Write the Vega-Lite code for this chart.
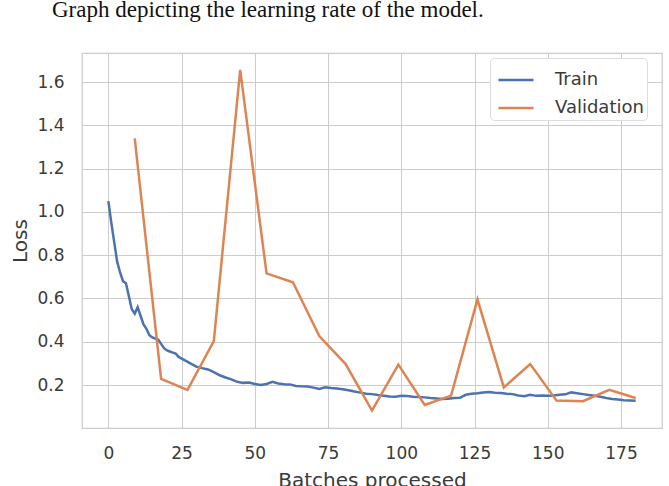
{
  "$schema": "https://vega.github.io/schema/vega-lite/v6.json",
  "autosize": {"type": "none"},
  "padding": {"left": 82, "top": 53, "right": 7, "bottom": 58},
  "width": 580,
  "height": 375,
  "title": {"text": "Graph depicting the learning rate of the model.", "anchor": "start", "frame": "group", "dx": -30, "offset": 31, "font": "Liberation Serif", "fontSize": 23, "fontWeight": "normal", "color": "#111111"},
  "config": {
    "font": "DejaVu Sans",
    "view": {"stroke": "#cccccc", "strokeWidth": 1.25},
    "axis": {"gridColor": "#cccccc", "gridWidth": 1, "domain": false, "ticks": false, "labelFontSize": 17, "labelColor": "#3a3a3a", "titleFontSize": 20, "titleFontWeight": "normal", "titleColor": "#3a3a3a"}
  },
  "data": {"values": [
    {"batch": 0, "loss": 1.05, "series": "Train"},
    {"batch": 1, "loss": 0.95, "series": "Train"},
    {"batch": 2, "loss": 0.86, "series": "Train"},
    {"batch": 3, "loss": 0.77, "series": "Train"},
    {"batch": 4, "loss": 0.72, "series": "Train"},
    {"batch": 5, "loss": 0.68, "series": "Train"},
    {"batch": 6, "loss": 0.67, "series": "Train"},
    {"batch": 7, "loss": 0.61, "series": "Train"},
    {"batch": 8, "loss": 0.55, "series": "Train"},
    {"batch": 9, "loss": 0.53, "series": "Train"},
    {"batch": 10, "loss": 0.56, "series": "Train"},
    {"batch": 11, "loss": 0.52, "series": "Train"},
    {"batch": 12, "loss": 0.48, "series": "Train"},
    {"batch": 13, "loss": 0.46, "series": "Train"},
    {"batch": 14, "loss": 0.43, "series": "Train"},
    {"batch": 15, "loss": 0.42, "series": "Train"},
    {"batch": 16, "loss": 0.415, "series": "Train"},
    {"batch": 17, "loss": 0.41, "series": "Train"},
    {"batch": 18, "loss": 0.39, "series": "Train"},
    {"batch": 19, "loss": 0.37, "series": "Train"},
    {"batch": 20, "loss": 0.36, "series": "Train"},
    {"batch": 21, "loss": 0.355, "series": "Train"},
    {"batch": 22, "loss": 0.35, "series": "Train"},
    {"batch": 23, "loss": 0.345, "series": "Train"},
    {"batch": 24, "loss": 0.33, "series": "Train"},
    {"batch": 26, "loss": 0.315, "series": "Train"},
    {"batch": 28, "loss": 0.3, "series": "Train"},
    {"batch": 30, "loss": 0.285, "series": "Train"},
    {"batch": 32, "loss": 0.278, "series": "Train"},
    {"batch": 34, "loss": 0.272, "series": "Train"},
    {"batch": 36, "loss": 0.26, "series": "Train"},
    {"batch": 38, "loss": 0.245, "series": "Train"},
    {"batch": 40, "loss": 0.235, "series": "Train"},
    {"batch": 42, "loss": 0.226, "series": "Train"},
    {"batch": 44, "loss": 0.215, "series": "Train"},
    {"batch": 46, "loss": 0.21, "series": "Train"},
    {"batch": 48, "loss": 0.212, "series": "Train"},
    {"batch": 50, "loss": 0.205, "series": "Train"},
    {"batch": 52, "loss": 0.2, "series": "Train"},
    {"batch": 54, "loss": 0.205, "series": "Train"},
    {"batch": 56, "loss": 0.215, "series": "Train"},
    {"batch": 58, "loss": 0.207, "series": "Train"},
    {"batch": 60, "loss": 0.204, "series": "Train"},
    {"batch": 62, "loss": 0.203, "series": "Train"},
    {"batch": 64, "loss": 0.196, "series": "Train"},
    {"batch": 66, "loss": 0.194, "series": "Train"},
    {"batch": 68, "loss": 0.193, "series": "Train"},
    {"batch": 70, "loss": 0.188, "series": "Train"},
    {"batch": 72, "loss": 0.182, "series": "Train"},
    {"batch": 74, "loss": 0.19, "series": "Train"},
    {"batch": 76, "loss": 0.186, "series": "Train"},
    {"batch": 78, "loss": 0.184, "series": "Train"},
    {"batch": 80, "loss": 0.181, "series": "Train"},
    {"batch": 82, "loss": 0.176, "series": "Train"},
    {"batch": 84, "loss": 0.17, "series": "Train"},
    {"batch": 86, "loss": 0.165, "series": "Train"},
    {"batch": 88, "loss": 0.16, "series": "Train"},
    {"batch": 90, "loss": 0.158, "series": "Train"},
    {"batch": 92, "loss": 0.154, "series": "Train"},
    {"batch": 94, "loss": 0.151, "series": "Train"},
    {"batch": 96, "loss": 0.147, "series": "Train"},
    {"batch": 98, "loss": 0.146, "series": "Train"},
    {"batch": 100, "loss": 0.15, "series": "Train"},
    {"batch": 102, "loss": 0.149, "series": "Train"},
    {"batch": 104, "loss": 0.146, "series": "Train"},
    {"batch": 106, "loss": 0.145, "series": "Train"},
    {"batch": 108, "loss": 0.143, "series": "Train"},
    {"batch": 110, "loss": 0.14, "series": "Train"},
    {"batch": 112, "loss": 0.138, "series": "Train"},
    {"batch": 114, "loss": 0.136, "series": "Train"},
    {"batch": 116, "loss": 0.137, "series": "Train"},
    {"batch": 118, "loss": 0.14, "series": "Train"},
    {"batch": 120, "loss": 0.141, "series": "Train"},
    {"batch": 122, "loss": 0.155, "series": "Train"},
    {"batch": 124, "loss": 0.16, "series": "Train"},
    {"batch": 126, "loss": 0.162, "series": "Train"},
    {"batch": 128, "loss": 0.165, "series": "Train"},
    {"batch": 130, "loss": 0.168, "series": "Train"},
    {"batch": 132, "loss": 0.164, "series": "Train"},
    {"batch": 134, "loss": 0.163, "series": "Train"},
    {"batch": 136, "loss": 0.16, "series": "Train"},
    {"batch": 138, "loss": 0.158, "series": "Train"},
    {"batch": 140, "loss": 0.152, "series": "Train"},
    {"batch": 142, "loss": 0.148, "series": "Train"},
    {"batch": 144, "loss": 0.155, "series": "Train"},
    {"batch": 146, "loss": 0.15, "series": "Train"},
    {"batch": 148, "loss": 0.152, "series": "Train"},
    {"batch": 150, "loss": 0.151, "series": "Train"},
    {"batch": 152, "loss": 0.152, "series": "Train"},
    {"batch": 154, "loss": 0.155, "series": "Train"},
    {"batch": 156, "loss": 0.157, "series": "Train"},
    {"batch": 158, "loss": 0.166, "series": "Train"},
    {"batch": 160, "loss": 0.162, "series": "Train"},
    {"batch": 162, "loss": 0.158, "series": "Train"},
    {"batch": 164, "loss": 0.154, "series": "Train"},
    {"batch": 166, "loss": 0.15, "series": "Train"},
    {"batch": 168, "loss": 0.146, "series": "Train"},
    {"batch": 170, "loss": 0.14, "series": "Train"},
    {"batch": 172, "loss": 0.136, "series": "Train"},
    {"batch": 174, "loss": 0.133, "series": "Train"},
    {"batch": 176, "loss": 0.13, "series": "Train"},
    {"batch": 178, "loss": 0.129, "series": "Train"},
    {"batch": 180, "loss": 0.127, "series": "Train"},
    {"batch": 9, "loss": 1.34, "series": "Validation"},
    {"batch": 18, "loss": 0.228, "series": "Validation"},
    {"batch": 27, "loss": 0.177, "series": "Validation"},
    {"batch": 36, "loss": 0.403, "series": "Validation"},
    {"batch": 45, "loss": 1.656, "series": "Validation"},
    {"batch": 54, "loss": 0.716, "series": "Validation"},
    {"batch": 63, "loss": 0.675, "series": "Validation"},
    {"batch": 72, "loss": 0.426, "series": "Validation"},
    {"batch": 81, "loss": 0.297, "series": "Validation"},
    {"batch": 90, "loss": 0.082, "series": "Validation"},
    {"batch": 99, "loss": 0.294, "series": "Validation"},
    {"batch": 108, "loss": 0.108, "series": "Validation"},
    {"batch": 117, "loss": 0.151, "series": "Validation"},
    {"batch": 126, "loss": 0.596, "series": "Validation"},
    {"batch": 135, "loss": 0.189, "series": "Validation"},
    {"batch": 144, "loss": 0.297, "series": "Validation"},
    {"batch": 153, "loss": 0.128, "series": "Validation"},
    {"batch": 162, "loss": 0.125, "series": "Validation"},
    {"batch": 171, "loss": 0.178, "series": "Validation"},
    {"batch": 180, "loss": 0.14, "series": "Validation"}
  ]},
  "mark": {"type": "line", "strokeWidth": 2.5, "clip": true},
  "encoding": {
    "x": {"field": "batch", "type": "quantitative", "title": "Batches processed",
      "scale": {"domain": [-9, 189], "nice": false, "zero": false},
      "axis": {"values": [0, 25, 50, 75, 100, 125, 150, 175], "labelPadding": 17, "titlePadding": 9}},
    "y": {"field": "loss", "type": "quantitative", "title": "Loss",
      "scale": {"domain": [0.0015, 1.734], "nice": false, "zero": false},
      "axis": {"values": [0.2, 0.4, 0.6, 0.8, 1.0, 1.2, 1.4, 1.6], "format": ".1f", "labelPadding": 18, "titlePadding": 6}},
    "color": {"field": "series", "type": "nominal",
      "scale": {"domain": ["Train", "Validation"], "range": ["#4c72b0", "#dd8452"]},
      "legend": {"title": null, "orient": "none", "legendX": 408, "legendY": 5, "symbolType": "stroke", "symbolSize": 1225, "symbolOffset": 4, "symbolStrokeWidth": 2.5, "labelFontSize": 18, "labelColor": "#3a3a3a", "labelOffset": 20, "rowPadding": -10, "padding": 3, "fillColor": "white", "strokeColor": "#dddddd", "cornerRadius": 4}}
  }
}
